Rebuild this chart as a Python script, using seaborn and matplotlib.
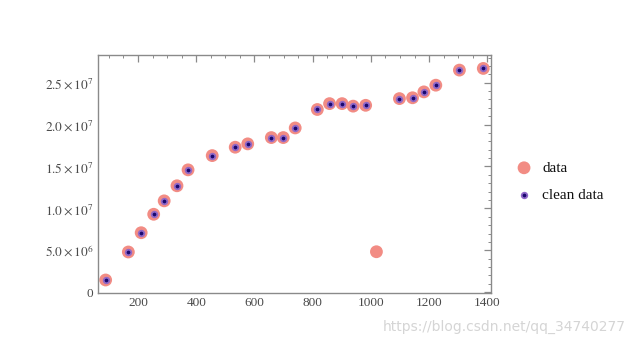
import matplotlib
matplotlib.use("Agg")
import matplotlib.pyplot as plt
import seaborn as sns
import pandas as pd
from matplotlib.ticker import MultipleLocator

# ---- data ----
x_clean = [89, 167, 211, 254, 290, 334, 372, 455, 534, 577, 658, 699, 740,
           816, 858, 901, 939, 982, 1098, 1143, 1182, 1223, 1304, 1386]
y_clean = [1.46e6, 4.8e6, 7.1e6, 9.3e6, 10.9e6, 12.7e6, 14.6e6, 16.3e6,
           17.3e6, 17.7e6, 18.45e6, 18.45e6, 19.6e6, 21.8e6, 22.5e6, 22.5e6,
           22.2e6, 22.3e6, 23.1e6, 23.2e6, 23.9e6, 24.7e6, 26.5e6, 26.7e6]
x_outlier = [1019]
y_outlier = [4.83e6]

x_ticks = [200, 400, 600, 800, 1000, 1200, 1400]
y_ticks = [0, 5e6, 1e7, 1.5e7, 2e7, 2.5e7]
y_ticklabels = ["0", r"$5.0\times10^{6}$", r"$1.0\times10^{7}$", r"$1.5\times10^{7}$",
                r"$2.0\times10^{7}$", r"$2.5\times10^{7}$"]

df_all = pd.DataFrame({"x": x_clean + x_outlier, "y": y_clean + y_outlier})
df_clean = pd.DataFrame({"x": x_clean, "y": y_clean})

sns.set_theme(style="white")
plt.rcParams["font.family"] = ["Liberation Serif", "DejaVu Serif"]
plt.rcParams["mathtext.fontset"] = "stix"

fig = plt.figure(figsize=(6.35, 3.46), dpi=100)
ax = fig.add_axes([0.154, 0.153, 0.619, 0.688])

sns.scatterplot(data=df_all, x="x", y="y", ax=ax, s=85, color="#f28c84",
                edgecolor="none", label="data", zorder=2)
sns.scatterplot(data=df_clean, x="x", y="y", ax=ax, s=16, color="#1a0870",
                edgecolor="#9068c8", linewidth=1.3, label="clean data", zorder=3)

ax.set_xlim(62, 1412)
ax.set_ylim(-0.1e6, 2.83e7)
ax.set_xticks(x_ticks)
ax.set_xticklabels([str(v) for v in x_ticks])
ax.set_yticks(y_ticks)
ax.set_yticklabels(y_ticklabels)
ax.xaxis.set_minor_locator(MultipleLocator(50))
ax.yaxis.set_minor_locator(MultipleLocator(1e6))
ax.set_xlabel("")
ax.set_ylabel("")

for sp in ax.spines.values():
    sp.set_color("#8a8a8a")
    sp.set_linewidth(1.0)
ax.tick_params(which="both", direction="in", top=True, right=True,
               color="#8a8a8a", labelcolor="#4a4a4a", labelsize=9.5, pad=3)
ax.tick_params(which="major", length=5, width=0.9)
ax.tick_params(which="minor", length=2.5, width=0.7)

leg = ax.legend(loc="upper left", bbox_to_anchor=(1.03, 0.58), frameon=False,
                fontsize=11, handletextpad=0.2, labelspacing=0.9,
                borderaxespad=0.0)
for t in leg.get_texts():
    t.set_color("#111111")

fig.text(0.985, 0.035, "https://blog.csdn.net/qq_34740277", ha="right", va="bottom",
         fontsize=10, color="#d5d5d5", family="DejaVu Sans")

fig.savefig("out.png", dpi=100, facecolor="white")
